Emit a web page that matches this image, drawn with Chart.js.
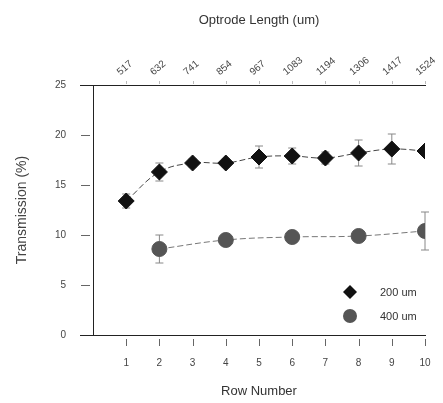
<!DOCTYPE html>
<html>
<head>
<meta charset="UTF-8">
<script src="https://cdn.jsdelivr.net/npm/chart.js@4.4.0/dist/chart.umd.min.js"></script>
<style>
  html, body { margin: 0; padding: 0; background: #fff; }
  #wrap { width: 443px; height: 403px; }
</style>
</head>
<body>
<div id="wrap"><canvas id="chart" width="443" height="403"></canvas></div>
<script>
// data
const rows = [1, 2, 3, 4, 5, 6, 7, 8, 9, 10];
const lengths = [517, 632, 741, 854, 967, 1083, 1194, 1306, 1417, 1524];
const t200 = [13.4, 16.3, 17.2, 17.2, 17.8, 17.9, 17.7, 18.2, 18.6, 18.4];
const err200 = [0.7, 0.9, 0.4, 0.4, 1.1, 0.8, 0.6, 1.3, 1.5, 0];
const rows400 = [2, 4, 6, 8, 10];
const t400 = [8.6, 9.5, 9.8, 9.9, 10.4];
const err400 = [1.4, 0.3, 0.3, 0.3, 1.9];
const yTicks = [0, 5, 10, 15, 20, 25];

const grey = '#555';
const font = "'Liberation Sans', Arial, sans-serif";

const pts200 = rows.map((r, i) => ({x: r, y: t200[i], e: err200[i]}));
const pts400 = rows400.map((r, i) => ({x: r, y: t400[i], e: err400[i]}));

// error bars, drawn from the scales
const errorBars = {
  id: 'errorBars',
  beforeDatasetsDraw(chart) {
    const ctx = chart.ctx, xs = chart.scales.x, ys = chart.scales.y;
    ctx.save();
    ctx.strokeStyle = '#888';
    ctx.lineWidth = 1;
    chart.data.datasets.forEach(ds => {
      ds.data.forEach(p => {
        if (!p.e) return;
        const px = xs.getPixelForValue(p.x);
        const top = ys.getPixelForValue(p.y + p.e);
        const bot = ys.getPixelForValue(p.y - p.e);
        ctx.beginPath();
        ctx.moveTo(px, top); ctx.lineTo(px, bot);
        ctx.moveTo(px - 4, top); ctx.lineTo(px + 4, top);
        ctx.moveTo(px - 4, bot); ctx.lineTo(px + 4, bot);
        ctx.stroke();
      });
    });
    ctx.restore();
  }
};

// tick marks with a gap, frame extensions and legend inside the plot
const extras = {
  id: 'extras',
  afterDraw(chart) {
    const ctx = chart.ctx, a = chart.chartArea;
    const xs = chart.scales.x, x2 = chart.scales.x2, ys = chart.scales.y;
    ctx.save();
    ctx.strokeStyle = '#222';
    ctx.lineWidth = 1;
    ctx.beginPath();
    ctx.moveTo(a.left - 13, a.top + 0.5); ctx.lineTo(a.left, a.top + 0.5);
    ctx.moveTo(a.left - 13, a.bottom + 0.5); ctx.lineTo(a.left, a.bottom + 0.5);
    ctx.stroke();

    ctx.strokeStyle = '#666';
    ctx.beginPath();
    yTicks.forEach(v => {
      if (v === 0 || v === 25) return;
      const py = Math.round(ys.getPixelForValue(v)) + 0.5;
      ctx.moveTo(a.left - 12, py); ctx.lineTo(a.left - 3, py);
    });
    rows.forEach(v => {
      const px = Math.round(xs.getPixelForValue(v)) + 0.5;
      ctx.moveTo(px, a.bottom + 4); ctx.lineTo(px, a.bottom + 11);
    });
    ctx.stroke();
    ctx.strokeStyle = '#bbb';
    ctx.beginPath();
    rows.forEach(v => {
      const px = Math.round(x2.getPixelForValue(v)) + 0.5;
      ctx.moveTo(px, a.top - 4); ctx.lineTo(px, a.top - 1);
    });
    ctx.stroke();

    const lx = a.right - 75, ly = a.bottom - 43;
    ctx.fillStyle = '#111';
    ctx.beginPath();
    ctx.moveTo(lx, ly - 7); ctx.lineTo(lx + 7, ly); ctx.lineTo(lx, ly + 7); ctx.lineTo(lx - 7, ly);
    ctx.closePath(); ctx.fill();
    ctx.fillStyle = grey;
    ctx.beginPath();
    ctx.arc(lx, ly + 24, 7, 0, Math.PI * 2); ctx.fill();
    ctx.fillStyle = '#333';
    ctx.font = '11px ' + font;
    ctx.textBaseline = 'middle';
    ctx.fillText('200 um', lx + 30, ly + 1);
    ctx.fillText('400 um', lx + 30, ly + 25);
    ctx.restore();
  }
};

new Chart(document.getElementById('chart'), {
  type: 'line',
  data: {
    datasets: [{
      label: '200 um',
      data: pts200,
      borderColor: '#444',
      borderWidth: 1,
      borderDash: [6, 3],
      tension: 0.4,
      pointStyle: 'rectRot',
      pointRadius: 8,
      pointBackgroundColor: '#111',
      pointBorderColor: '#111'
    }, {
      label: '400 um',
      data: pts400,
      borderColor: '#777',
      borderWidth: 1,
      borderDash: [6, 3],
      tension: 0.4,
      pointStyle: 'circle',
      pointRadius: 7.5,
      pointBackgroundColor: grey,
      pointBorderColor: grey
    }]
  },
  options: {
    responsive: false,
    animation: false,
    layout: { padding: { left: 10, right: 18, top: 9, bottom: 0 } },
    plugins: { legend: { display: false }, tooltip: { enabled: false } },
    scales: {
      x: {
        type: 'linear', position: 'bottom', min: 0, max: 10,
        afterBuildTicks: s => { s.ticks = rows.map(v => ({value: v})); },
        afterFit: s => { s.height = 68; s.paddingLeft = 0; s.paddingRight = 0; },
        grid: { drawOnChartArea: false, drawTicks: true, tickLength: 12, color: 'rgba(0,0,0,0)' },
        border: { color: '#222' },
        ticks: { color: '#444', font: { family: font, size: 10 }, padding: 10, maxRotation: 0 },
        title: { display: true, text: 'Row Number', color: '#333', font: { family: font, size: 13 }, padding: { top: 11 } }
      },
      x2: {
        type: 'linear', position: 'top', min: 0, max: 10,
        afterBuildTicks: s => { s.ticks = rows.map(v => ({value: v})); },
        afterFit: s => { s.height = 76; s.paddingLeft = 0; s.paddingRight = 0; },
        grid: { drawOnChartArea: false, tickLength: 3, color: 'rgba(0,0,0,0)' },
        border: { color: '#222' },
        ticks: {
          color: '#444', font: { family: font, size: 10 }, padding: 4,
          minRotation: 40, maxRotation: 40,
          callback: v => lengths[rows.indexOf(v)]
        },
        title: { display: true, text: 'Optrode Length (um)', color: '#333', font: { family: font, size: 13 }, padding: { bottom: 6 } }
      },
      y: {
        min: 0, max: 25,
        afterBuildTicks: s => { s.ticks = yTicks.map(v => ({value: v})); },
        afterFit: s => { s.width = 83; },
        grid: { drawOnChartArea: false, tickLength: 12, color: 'rgba(0,0,0,0)' },
        border: { color: '#222' },
        ticks: { color: '#444', font: { family: font, size: 10 }, padding: 15 },
        title: { display: true, text: 'Transmission (%)', color: '#444', font: { family: font, size: 14 }, padding: { bottom: 4 } }
      }
    }
  },
  plugins: [errorBars, extras]
});
</script>
</body>
</html>
